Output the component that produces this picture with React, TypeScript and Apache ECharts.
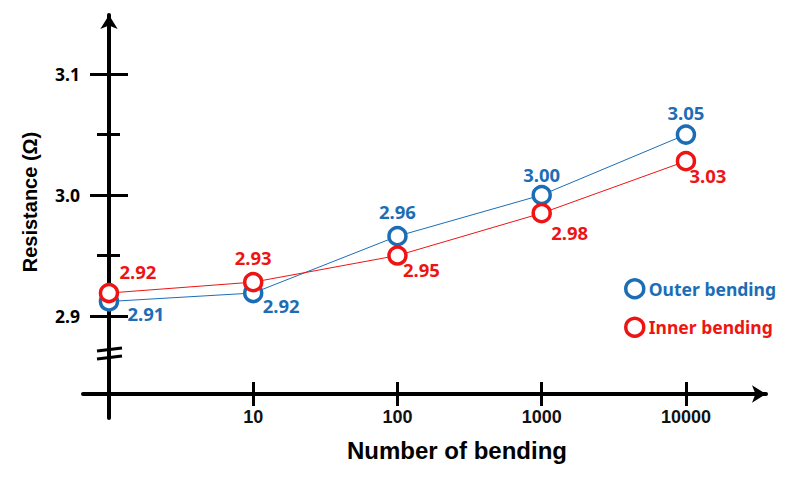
import React, { useEffect, useRef } from "react";
import * as echarts from "echarts";

const categories = ["0", "10", "100", "1000", "10000"];
const outerValues = [2.912, 2.919, 2.966, 3.0, 3.05];
const innerValues = [2.919, 2.928, 2.95, 2.985, 3.028];
const outerLabels = ["2.91", "2.92", "2.96", "3.00", "3.05"];
const innerLabels = ["2.92", "2.93", "2.95", "2.98", "3.03"];
const outerLabelOffsets = [[37, 12], [28, 12], [0, -25], [0, -21], [0, -22]];
const innerLabelOffsets = [[29, -22], [0, -25], [24, 14], [28, 19], [22, 14]];
const yLabelTicks = [2.9, 3.0, 3.1];
const yMinorTicks = [2.95, 3.05];
const xTickIdx = [1, 2, 3, 4];

const BLUE = "#1B6EB5";
const RED = "#EE1414";
const MALGUN = "'Noto Sans', 'Open Sans', sans-serif";
const ARIAL = "'Liberation Sans', Arial, sans-serif";

const Y_MIN = 2.8157;
const Y_MAX = 3.1488;
const X_MIN = -0.18;
const X_MAX = 4.555;

export default function App() {
  const ref = useRef<HTMLDivElement>(null);
  useEffect(() => {
    if (!ref.current) return;
    const chart = echarts.init(ref.current, null, { renderer: "svg" });
    const mkData = (vals: number[], labels: string[], offs: number[][], color: string) =>
      vals.map((v, i) => ({
        value: [i, v],
        label: {
          show: true,
          position: "inside",
          offset: offs[i],
          formatter: labels[i],
          color,
          fontFamily: MALGUN,
          fontWeight: "bold",
          fontSize: 18.5,
        },
      }));
    const yBase = {
      type: "value",
      min: Y_MIN,
      max: Y_MAX,
      position: "left",
      splitLine: { show: false },
    } as any;
    const xBase = {
      type: "value",
      min: X_MIN,
      max: X_MAX,
      position: "bottom",
      splitLine: { show: false },
    } as any;
    chart.setOption({
      animation: false,
      backgroundColor: "#ffffff",
      grid: { left: 83, right: 25, top: 15, bottom: 60, containLabel: false },
      xAxis: [
        {
          ...xBase,
          offset: -24,
          axisLine: {
            show: true,
            onZero: false,
            lineStyle: { color: "#000", width: 4 },
            symbol: ["none", "arrow"],
            symbolSize: [13, 14],
          },
          axisTick: { show: false },
          axisLabel: {
            show: true,
            customValues: xTickIdx,
            formatter: (v: number) => categories[Math.round(v)],
            margin: 14,
            color: "#111",
            fontFamily: ARIAL,
            fontWeight: "bold",
            fontSize: 18,
          },
        },
        {
          ...xBase,
          offset: -12,
          axisLine: { show: false, onZero: false },
          axisLabel: { show: false },
          axisTick: {
            show: true,
            inside: true,
            length: 24,
            customValues: xTickIdx,
            lineStyle: { color: "#000", width: 3 },
          },
        },
      ],
      yAxis: [
        {
          ...yBase,
          offset: -26,
          axisLine: {
            show: true,
            onZero: false,
            lineStyle: { color: "#000", width: 4 },
            symbol: ["none", "arrow"],
            symbolSize: [13, 14],
          },
          axisTick: { show: false },
          axisLabel: {
            show: true,
            customValues: yLabelTicks,
            formatter: (v: number) => v.toFixed(1),
            margin: 29,
            color: "#000",
            fontFamily: MALGUN,
            fontWeight: "bold",
            fontSize: 17.5,
          },
        },
        {
          ...yBase,
          offset: -7,
          axisLine: { show: false, onZero: false },
          axisLabel: { show: false },
          axisTick: {
            show: true,
            inside: true,
            length: 38,
            customValues: yLabelTicks,
            lineStyle: { color: "#000", width: 3 },
          },
        },
        {
          ...yBase,
          offset: -14,
          axisLine: { show: false, onZero: false },
          axisLabel: { show: false },
          axisTick: {
            show: true,
            inside: true,
            length: 23,
            customValues: yMinorTicks,
            lineStyle: { color: "#000", width: 3 },
          },
        },
      ],
      legend: {
        orient: "vertical",
        left: 619,
        top: 273,
        itemGap: 17,
        itemWidth: 18,
        itemHeight: 18,
        textStyle: { fontFamily: MALGUN, fontWeight: "bold", fontSize: 17.5 },
        data: [
          {
            name: "Outer bending",
            icon: "circle",
            itemStyle: { color: "#fff", borderColor: BLUE, borderWidth: 3.5 },
            textStyle: { color: BLUE },
          },
          {
            name: "Inner bending",
            icon: "circle",
            itemStyle: { color: "#fff", borderColor: RED, borderWidth: 3.5 },
            textStyle: { color: RED },
          },
        ],
      },
      series: [
        {
          name: "Outer bending",
          type: "line",
          xAxisIndex: 0,
          yAxisIndex: 0,
          symbol: "circle",
          symbolSize: 17,
          itemStyle: { color: "#fff", borderColor: BLUE, borderWidth: 3.5 },
          lineStyle: { color: BLUE, width: 1 },
          data: mkData(outerValues, outerLabels, outerLabelOffsets, BLUE),
          z: 3,
        },
        {
          name: "Inner bending",
          type: "line",
          xAxisIndex: 0,
          yAxisIndex: 0,
          symbol: "circle",
          symbolSize: 17,
          itemStyle: { color: "#fff", borderColor: RED, borderWidth: 3.5 },
          lineStyle: { color: RED, width: 1 },
          data: mkData(innerValues, innerLabels, innerLabelOffsets, RED),
          z: 4,
        },
      ],
      graphic: [
        {
          type: "line",
          shape: { x1: 97, y1: 351, x2: 122, y2: 348 },
          style: { stroke: "#000", lineWidth: 3 },
        },
        {
          type: "line",
          shape: { x1: 97, y1: 359, x2: 122, y2: 356 },
          style: { stroke: "#000", lineWidth: 3 },
        },
        {
          type: "text",
          x: 457,
          y: 450,
          style: {
            text: "Number of bending",
            align: "center",
            verticalAlign: "middle",
            fill: "#000",
            font: `bold 24px ${ARIAL}`,
          },
        },
        {
          type: "text",
          x: 30,
          y: 202,
          rotation: Math.PI / 2,
          style: {
            text: "Resistance (Ω)",
            align: "center",
            verticalAlign: "middle",
            fill: "#000",
            font: `bold 20px ${ARIAL}`,
          },
        },
      ],
    } as any);
    return () => chart.dispose();
  }, []);
  return (
    <div
      ref={ref}
      style={{ position: "fixed", left: 0, top: 0, width: 791, height: 478 }}
    />
  );
}
